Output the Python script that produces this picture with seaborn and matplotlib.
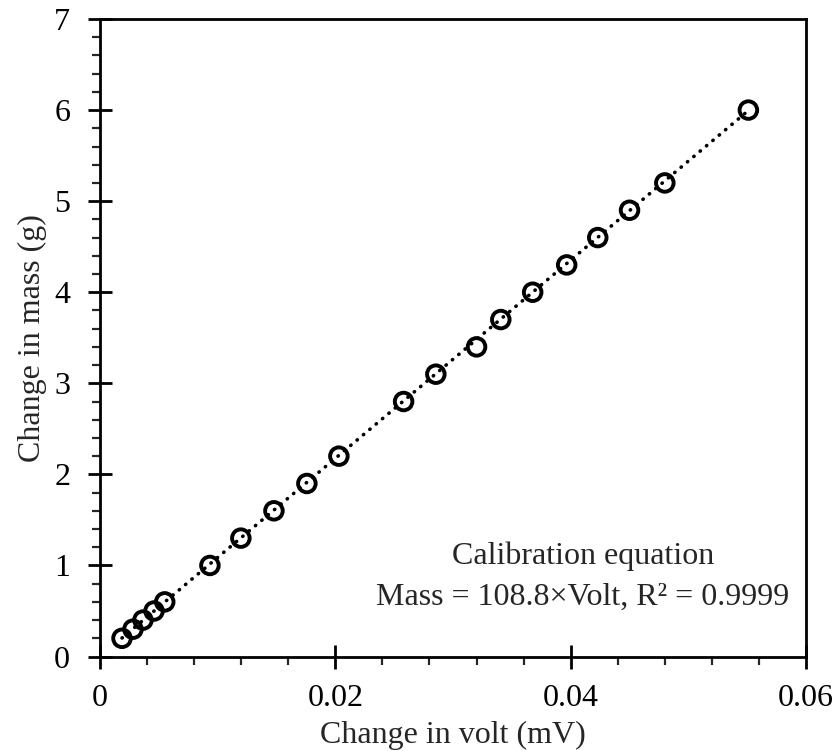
import numpy as np
import pandas as pd
import matplotlib
matplotlib.use("Agg")
import matplotlib.pyplot as plt
from matplotlib.ticker import MultipleLocator
import seaborn as sns

volt = [0.00187, 0.0028, 0.00365, 0.00459, 0.0055, 0.00934, 0.01197, 0.01478,
        0.01758, 0.0203, 0.0258, 0.02854, 0.0320, 0.03406, 0.03677, 0.03966,
        0.0423, 0.0450, 0.0480, 0.0551]
mass = [0.2, 0.3, 0.4, 0.5, 0.6, 1.0, 1.3, 1.6, 1.9, 2.2, 2.8, 3.1, 3.4, 3.7,
        4.0, 4.3, 4.6, 4.9, 5.2, 6.0]
slope = 108.8
xticks = [0, 0.02, 0.04, 0.06]
xticklabels = ["0", "0.02", "0.04", "0.06"]
yticks = [0, 1, 2, 3, 4, 5, 6, 7]

sns.set_style("ticks")
plt.rcParams['font.family'] = ['Liberation Serif', 'DejaVu Serif']

df = pd.DataFrame({"volt": volt, "mass": mass})
fit = pd.DataFrame({"volt": [min(volt), max(volt)]})
fit["mass"] = slope * fit["volt"]

fig = plt.figure(figsize=(8.39, 7.51), dpi=100)
ax = fig.add_axes([0.1192, 0.1258, 0.8415, 0.8489])

sns.lineplot(data=fit, x="volt", y="mass", ax=ax, color="black", lw=2.6,
             linestyle=(0, (0.1, 2.2)))
ax.lines[-1].set_dash_capstyle("round")
sns.scatterplot(data=df, x="volt", y="mass", ax=ax, marker="o", s=160,
                facecolor="none", edgecolor="black", linewidth=2.8, zorder=3)

ax.set_xlim(0, 0.06)
ax.set_ylim(0, 7)
ax.set_xticks(xticks)
ax.set_xticklabels(xticklabels)
ax.set_yticks(yticks)
ax.xaxis.set_minor_locator(MultipleLocator(0.004))
ax.yaxis.set_minor_locator(MultipleLocator(0.2))
ax.tick_params(which="major", direction="inout", length=17, width=2,
               labelsize=23, colors="black")
ax.tick_params(which="minor", direction="out", length=6, width=1.6)
ax.tick_params(axis="x", which="major", pad=11)
ax.tick_params(axis="y", which="major", pad=13)
for s in ax.spines.values():
    s.set_linewidth(2)
    s.set_visible(True)
    s.set_color("black")

ax.set_xlabel("Change in volt (mV)", fontsize=23, labelpad=6)
ax.set_ylabel("Change in mass (g)", fontsize=23, labelpad=5)

ax.text(0.04102, 1.10, "Calibration equation", fontsize=23, ha="center", va="center")
ax.text(0.04102, 0.645, "Mass = 108.8×Volt, R² = 0.9999", fontsize=23, ha="center", va="center")

fig.savefig("out.png", dpi=100)
